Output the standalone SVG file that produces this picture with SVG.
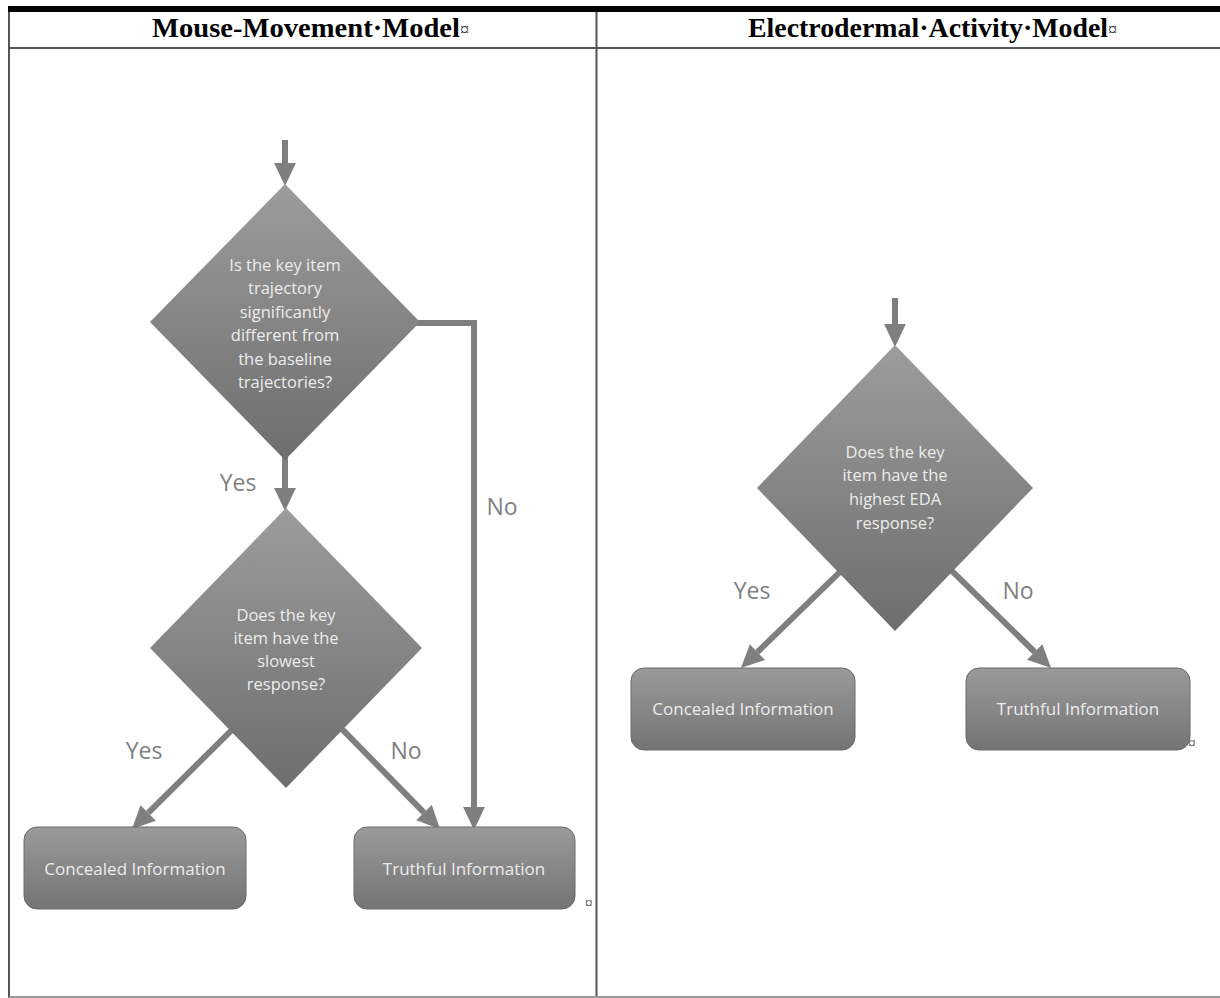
<svg xmlns="http://www.w3.org/2000/svg" width="1220" height="998" viewBox="0 0 1220 998">
<defs>
<linearGradient id="gd" x1="0" y1="0" x2="0" y2="1">
<stop offset="0" stop-color="#9c9c9c"/>
<stop offset="1" stop-color="#6e6e6e"/>
</linearGradient>
<linearGradient id="gb" x1="0" y1="0" x2="0" y2="1">
<stop offset="0" stop-color="#9a9a9a"/>
<stop offset="1" stop-color="#747474"/>
</linearGradient>
<marker id="ah" markerUnits="userSpaceOnUse" markerWidth="24" markerHeight="24" viewBox="0 -11 21 22" refX="0" refY="0" orient="auto">
<path d="M0,-10 L21,0 L0,10 Z" fill="#7f7f7f"/>
</marker>
<style>
.conn{fill:none;stroke:#7f7f7f;stroke-width:6;marker-end:url(#ah)}
.dia{fill:url(#gd)}
.box{fill:url(#gb);stroke:#6a6a6a;stroke-width:1}
.nt{font-family:"Open Sans","Liberation Sans",sans-serif;font-size:16.5px;fill:#ececec;text-anchor:middle}
.bt{font-family:"Open Sans","Liberation Sans",sans-serif;font-size:17px;fill:#ececec;text-anchor:middle}
.lbl{font-family:"Open Sans","Liberation Sans",sans-serif;font-size:23px;fill:#7f7f7f;text-anchor:middle}
.hdr{font-family:"Liberation Serif","Times New Roman",serif;font-size:28px;font-weight:bold;fill:#000}
.mk{font-family:"Liberation Serif",serif;font-size:18px;fill:#333}
.mks{font-family:"Liberation Serif",serif;font-size:15px;fill:#333}
.rule{stroke:#555;stroke-width:2;fill:none}
</style>
</defs>

<g id="table">
<rect x="8" y="6" width="1212" height="6" fill="#000"/>
<line class="rule" x1="9" y1="12" x2="9" y2="998"/>
<line class="rule" x1="596.5" y1="12" x2="596.5" y2="998"/>
<line class="rule" x1="9" y1="48" x2="1220" y2="48"/>
<line x1="9" y1="997" x2="1220" y2="997" stroke="#999" stroke-width="2"/>
<text class="hdr" x="152" y="37" textLength="308" lengthAdjust="spacingAndGlyphs">Mouse-Movement·Model</text><text class="mk" x="460" y="36">¤</text>
<text class="hdr" x="748" y="37" textLength="360" lengthAdjust="spacingAndGlyphs">Electrodermal·Activity·Model</text><text class="mk" x="1108" y="36">¤</text>
<text class="mks" x="585" y="908">¤</text>
<text class="mks" x="1188" y="748">¤</text>
</g>

<g id="connectors">
<line class="conn" x1="285" y1="140" x2="285" y2="163"/>
<line class="conn" x1="285" y1="455" x2="285" y2="488"/>
<polyline class="conn" points="415,323 474,323 474,807"/>
<line class="conn" x1="254.7" y1="707.3" x2="148.2" y2="812.9"/>
<line class="conn" x1="319" y1="705.6" x2="424" y2="812.7"/>
<line class="conn" x1="895" y1="298" x2="895" y2="324"/>
<line class="conn" x1="865" y1="547.7" x2="757.4" y2="652.1"/>
<line class="conn" x1="927.6" y1="547.1" x2="1034.7" y2="652"/>
<text class="lbl" x="238" y="491">Yes</text>
<text class="lbl" x="502" y="515">No</text>
<text class="lbl" x="144" y="759">Yes</text>
<text class="lbl" x="406" y="759">No</text>
<text class="lbl" x="752" y="599">Yes</text>
<text class="lbl" x="1018" y="599">No</text>
</g>

<g id="d1">
<polygon class="dia" points="285,184 420,322 285,460 150,322"/>
<text class="nt" x="285" y="271">Is the key item</text>
<text class="nt" x="285" y="294">trajectory</text>
<text class="nt" x="285" y="318">significantly</text>
<text class="nt" x="285" y="341">different from</text>
<text class="nt" x="285" y="365">the baseline</text>
<text class="nt" x="285" y="388">trajectories?</text>
</g>

<g id="d2">
<polygon class="dia" points="286,508 422,648 286,788 150,648"/>
<text class="nt" x="286" y="621">Does the key</text>
<text class="nt" x="286" y="644">item have the</text>
<text class="nt" x="286" y="667">slowest</text>
<text class="nt" x="286" y="690">response?</text>
</g>

<g id="mm-concealed">
<rect class="box" x="24" y="827" width="222" height="82" rx="13"/>
<text class="bt" x="135" y="875">Concealed Information</text>
</g>

<g id="mm-truthful">
<rect class="box" x="354" y="827" width="221" height="82" rx="13"/>
<text class="bt" x="464" y="875">Truthful Information</text>
</g>

<g id="d3">
<polygon class="dia" points="895,345 1033,488 895,631 757,488"/>
<text class="nt" x="895" y="458">Does the key</text>
<text class="nt" x="895" y="481">item have the</text>
<text class="nt" x="895" y="505">highest EDA</text>
<text class="nt" x="895" y="529">response?</text>
</g>

<g id="eda-concealed">
<rect class="box" x="631" y="668" width="224" height="82" rx="13"/>
<text class="bt" x="743" y="715">Concealed Information</text>
</g>

<g id="eda-truthful">
<rect class="box" x="966" y="668" width="224" height="82" rx="13"/>
<text class="bt" x="1078" y="715">Truthful Information</text>
</g>
</svg>
